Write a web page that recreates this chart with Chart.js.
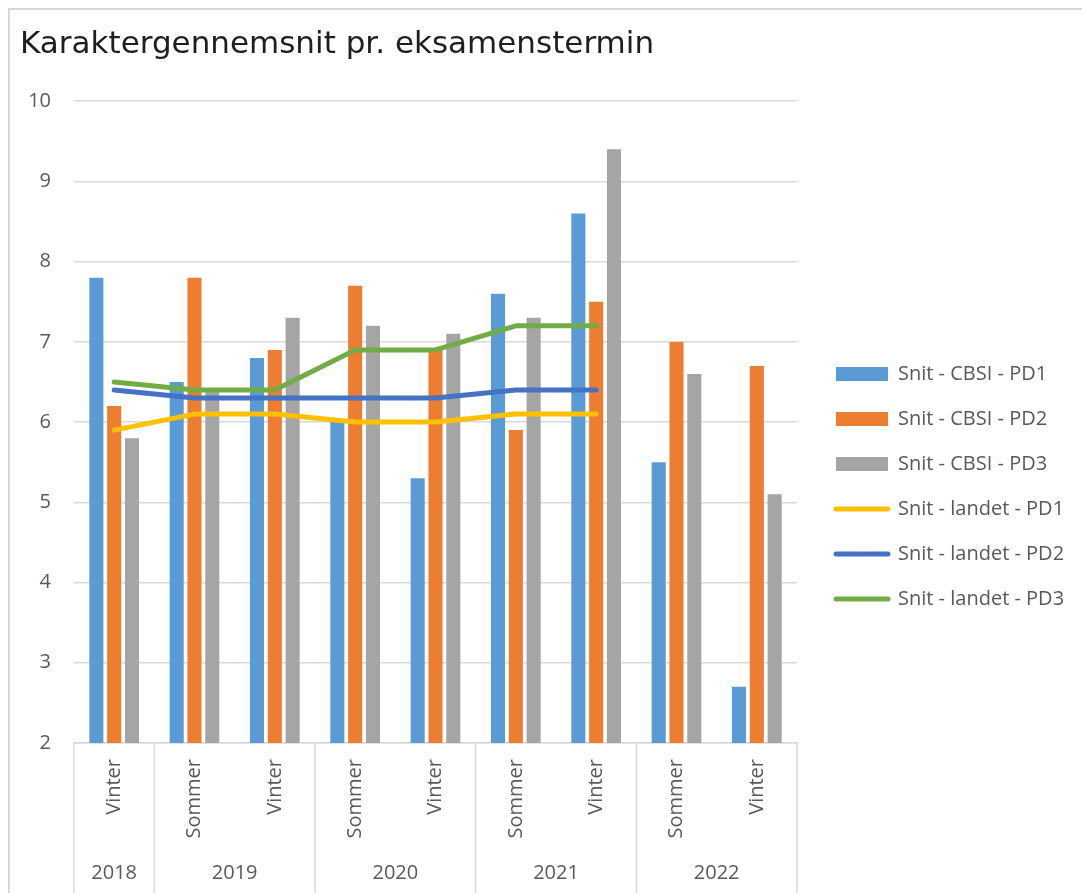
<!DOCTYPE html>
<html>
<head>
<meta charset="utf-8">
<script src="https://cdn.jsdelivr.net/npm/chart.js@4.4.0/dist/chart.umd.min.js"></script>
<style>
  html, body { margin: 0; padding: 0; background: #fff; overflow: hidden; }
</style>
</head>
<body>
<canvas id="chart" width="1082" height="973"></canvas>
<script>
// data
const terms = ["Vinter", "Sommer", "Vinter", "Sommer", "Vinter", "Sommer", "Vinter", "Sommer", "Vinter"];
const years = ["2018", "2019", "2019", "2020", "2020", "2021", "2021", "2022", "2022"];
const cbsiPD1 = [7.8, 6.5, 6.8, 6.0, 5.3, 7.6, 8.6, 5.5, 2.7];
const cbsiPD2 = [6.2, 7.8, 6.9, 7.7, 6.9, 5.9, 7.5, 7.0, 6.7];
const cbsiPD3 = [5.8, 6.4, 7.3, 7.2, 7.1, 7.3, 9.4, 6.6, 5.1];
const landetPD1 = [5.9, 6.1, 6.1, 6.0, 6.0, 6.1, 6.1, null, null];
const landetPD2 = [6.4, 6.3, 6.3, 6.3, 6.3, 6.4, 6.4, null, null];
const landetPD3 = [6.5, 6.4, 6.4, 6.9, 6.9, 7.2, 7.2, null, null];
const yMin = 2, yMax = 10, yStep = 1;

const font = "'Open Sans', sans-serif";
const textColor = "#595959";
const gridColor = "#d9d9d9";

Chart.defaults.font.family = font;
Chart.defaults.font.size = 20;
Chart.defaults.color = textColor;

function bar(label, data, color) {
    return { type: "bar", label: label, data: data, backgroundColor: color, borderWidth: 0, order: 1 };
}
function line(label, data, color) {
    return {
        type: "line", label: label, data: data, borderColor: color, backgroundColor: color,
        borderWidth: 5, pointRadius: 0, tension: 0, borderCapStyle: "round", borderJoinStyle: "round", order: 0
    };
}

const datasets = [
    bar("Snit - CBSI - PD1", cbsiPD1, "#5b9bd5"),
    bar("Snit - CBSI - PD2", cbsiPD2, "#ed7d31"),
    bar("Snit - CBSI - PD3", cbsiPD3, "#a5a5a5"),
    line("Snit - landet - PD1", landetPD1, "#ffc000"),
    line("Snit - landet - PD2", landetPD2, "#4472c4"),
    line("Snit - landet - PD3", landetPD3, "#70ad47")
];

// legend spacing: items start 25px right of the plot, so work out the right padding from the text width
const legendPad = 25, swatchW = 52;
const measure = document.createElement("canvas").getContext("2d");
measure.font = "20px " + font;
const textW = Math.max(...datasets.map(d => measure.measureText(d.label).width));
const legendW = legendPad + swatchW + 10 + textW + 10;
const rightPad = Math.max(0, 1082 - 811 - legendW);

// chart frame (top and left edge only, the rest is cut off)
const frame = {
    id: "frame",
    beforeDraw(chart) {
        const ctx = chart.ctx;
        ctx.save();
        ctx.strokeStyle = gridColor;
        ctx.lineWidth = 2;
        ctx.beginPath();
        ctx.moveTo(9, chart.height);
        ctx.lineTo(9, 9);
        ctx.lineTo(chart.width, 9);
        ctx.stroke();
        ctx.restore();
    }
};

// second level of the x axis: year groups with separators
const yearGroups = {
    id: "yearGroups",
    afterDraw(chart) {
        const { ctx, chartArea } = chart;
        const x = chart.scales.x;
        const half = (x.getPixelForValue(1) - x.getPixelForValue(0)) / 2;
        ctx.save();
        ctx.strokeStyle = gridColor;
        ctx.lineWidth = 1.5;
        ctx.fillStyle = textColor;
        ctx.font = "20px " + font;
        ctx.textAlign = "center";
        ctx.textBaseline = "middle";
        let start = 0;
        for (let i = 1; i <= years.length; i++) {
            if (i < years.length && years[i] === years[start]) continue;
            const left = x.getPixelForValue(start) - half;
            const right = x.getPixelForValue(i - 1) + half;
            ctx.beginPath();
            if (start === 0) {
                ctx.moveTo(left, chartArea.bottom);
                ctx.lineTo(left, chart.height);
            }
            ctx.moveTo(right, chartArea.bottom);
            ctx.lineTo(right, chart.height);
            ctx.stroke();
            ctx.fillText(years[start], (left + right) / 2, chartArea.bottom + 130);
            start = i;
        }
        ctx.restore();
    }
};

new Chart(document.getElementById("chart"), {
    data: { labels: terms, datasets: datasets },
    plugins: [frame, yearGroups],
    options: {
        responsive: false,
        animation: false,
        layout: { padding: { left: 20, right: rightPad, top: 0, bottom: 0 } },
        datasets: {
            bar: { categoryPercentage: 0.665, barPercentage: 0.79 }
        },
        scales: {
            x: {
                grid: { display: false },
                border: { display: true, color: gridColor, width: 1.5 },
                ticks: { minRotation: 90, maxRotation: 90, padding: 8, color: textColor },
                afterFit: s => { s.height = 230; }
            },
            y: {
                min: yMin, max: yMax,
                ticks: { stepSize: yStep, padding: 23, color: textColor },
                grid: { color: gridColor, lineWidth: 1.5, drawTicks: false },
                border: { display: false },
                afterFit: s => { s.width = 54; }
            },
            // empty axis, only keeps the gap between plot and legend
            gap: {
                type: "linear", position: "right", display: true,
                grid: { display: false }, border: { display: false }, ticks: { display: false },
                afterFit: s => { s.width = 14; }
            }
        },
        plugins: {
            title: {
                display: true,
                text: "Karaktergennemsnit pr. eksamenstermin",
                align: "start",
                color: "#1f1f1f",
                font: { family: "'DejaVu Sans', sans-serif", size: 31, weight: 400, lineHeight: 1.2 },
                padding: { top: 26, bottom: 38 }
            },
            legend: {
                position: "right",
                maxWidth: Math.ceil(legendW) + 2,
                labels: {
                    usePointStyle: true,
                    pointStyleWidth: swatchW,
                    boxHeight: 14,
                    padding: legendPad,
                    color: textColor,
                    font: { size: 20 },
                    generateLabels: chart => chart.data.datasets.map((d, i) => ({
                        text: d.label,
                        datasetIndex: i,
                        fillStyle: d.type === "line" ? d.borderColor : d.backgroundColor,
                        strokeStyle: d.type === "line" ? d.borderColor : d.backgroundColor,
                        lineWidth: d.type === "line" ? 5 : 0,
                        lineCap: "round",
                        pointStyle: d.type === "line" ? "line" : "rect",
                        fontColor: textColor,
                        hidden: false
                    }))
                }
            },
            tooltip: { enabled: false }
        }
    }
});
</script>
</body>
</html>
